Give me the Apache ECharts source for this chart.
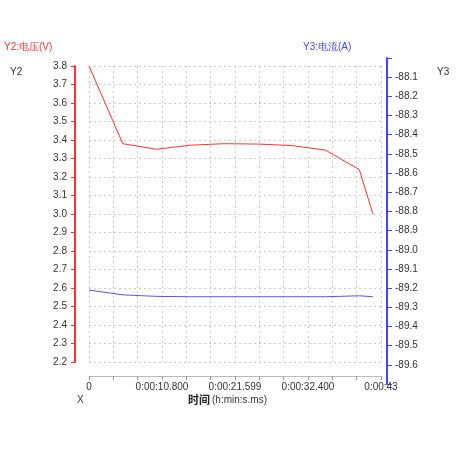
<!DOCTYPE html>
<html>
<head>
<meta charset="utf-8">
<script src="https://cdn.jsdelivr.net/npm/echarts@6/dist/echarts.min.js"></script>
<style>html,body{margin:0;padding:0;background:#fff}#c{width:460px;height:460px}</style>
</head>
<body>
<div id="c"></div>
<script>
// 时间 (s)
const times = [0, 5, 10, 15, 20, 25, 30, 35, 40, 42]
// 电压 (V)
const voltage = [3.80, 3.38, 3.35, 3.372, 3.38, 3.378, 3.37, 3.345, 3.24, 3.00]
// 电流 (A)
const current = [-89.21, -89.235, -89.243, -89.245, -89.245, -89.245, -89.245, -89.245, -89.24, -89.245]
const xTickLabels = ['0', '0:00:10.800', '0:00:21.599', '0:00:32.400', '0:00:43']

const font = 'Liberation Sans, Arial, sans-serif'
const chart = echarts.init(document.getElementById('c'))
chart.setOption({
  animation: false,
  textStyle: { fontFamily: font },
  grid: [
    { left: 89, right: 79, top: 66, bottom: 98 },
    { left: 89, right: 79, top: 58, bottom: 76 }
  ],
  xAxis: [
    {
      gridIndex: 0, type: 'value', min: 0, max: 43.2, interval: 3.6, offset: 14,
      axisLine: { onZero: false, lineStyle: { color: '#bbb' } },
      axisTick: { show: true, length: 4, lineStyle: { color: '#999' } },
      axisLabel: {
        color: '#333', fontSize: 10, margin: 6,
        formatter: (v, i) => (i % 3 === 0 ? xTickLabels[i / 3] : '')
      },
      splitLine: { lineStyle: { color: '#ccc', type: [2, 3] } }
    },
    { gridIndex: 1, type: 'value', min: 0, max: 43.2, show: false }
  ],
  yAxis: [
    {
      gridIndex: 0, type: 'value', min: 2.2, max: 3.8, interval: 0.1, position: 'left', offset: 14,
      axisLine: { show: true, onZero: false, lineStyle: { color: '#ff3333', width: 2 } },
      axisTick: { show: true, length: 4, lineStyle: { color: '#ff3333' } },
      axisLabel: { color: '#333', fontSize: 10, formatter: v => v.toFixed(1) },
      splitLine: { lineStyle: { color: '#ccc', type: [2, 3] } }
    },
    {
      gridIndex: 1, type: 'value', min: -89.7, max: -88.0, interval: 0.1, position: 'right', offset: 6,
      axisLine: { show: true, onZero: false, lineStyle: { color: '#4444ff', width: 2 } },
      axisTick: { show: true, length: 5, lineStyle: { color: '#4444ff' } },
      axisLabel: {
        color: '#333', fontSize: 10,
        formatter: v => (v > -88.05 || v < -89.65 ? '' : v.toFixed(1))
      },
      splitLine: { show: false }
    }
  ],
  series: [
    {
      type: 'line', xAxisIndex: 0, yAxisIndex: 0, symbol: 'none',
      lineStyle: { color: '#ff3333', width: 1 },
      data: times.map((t, i) => [t, voltage[i]])
    },
    {
      type: 'line', xAxisIndex: 1, yAxisIndex: 1, symbol: 'none',
      lineStyle: { color: '#5555ff', width: 1 },
      data: times.map((t, i) => [t, current[i]])
    }
  ],
  graphic: [
    { type: 'text', left: 4, top: 42, style: { text: 'Y2:电压(V)', fill: '#ff3333', font: '10px ' + font } },
    { type: 'text', left: 303, top: 42, style: { text: 'Y3:电流(A)', fill: '#4444ff', font: '10px ' + font } },
    { type: 'text', left: 10, top: 67, style: { text: 'Y2', fill: '#333', font: '10px ' + font } },
    { type: 'text', left: 437, top: 67, style: { text: 'Y3', fill: '#333', font: '10px ' + font } },
    { type: 'text', left: 77, top: 395, style: { text: 'X', fill: '#333', font: '10px ' + font } },
    { type: 'text', left: 188, top: 394, style: { text: '时间', fill: '#222', font: 'bold 11px Noto Sans CJK SC' } },
    { type: 'text', left: 212, top: 395, style: { text: '(h:min:s.ms)', fill: '#333', font: '10px ' + font } }
  ]
})
</script>
</body>
</html>
